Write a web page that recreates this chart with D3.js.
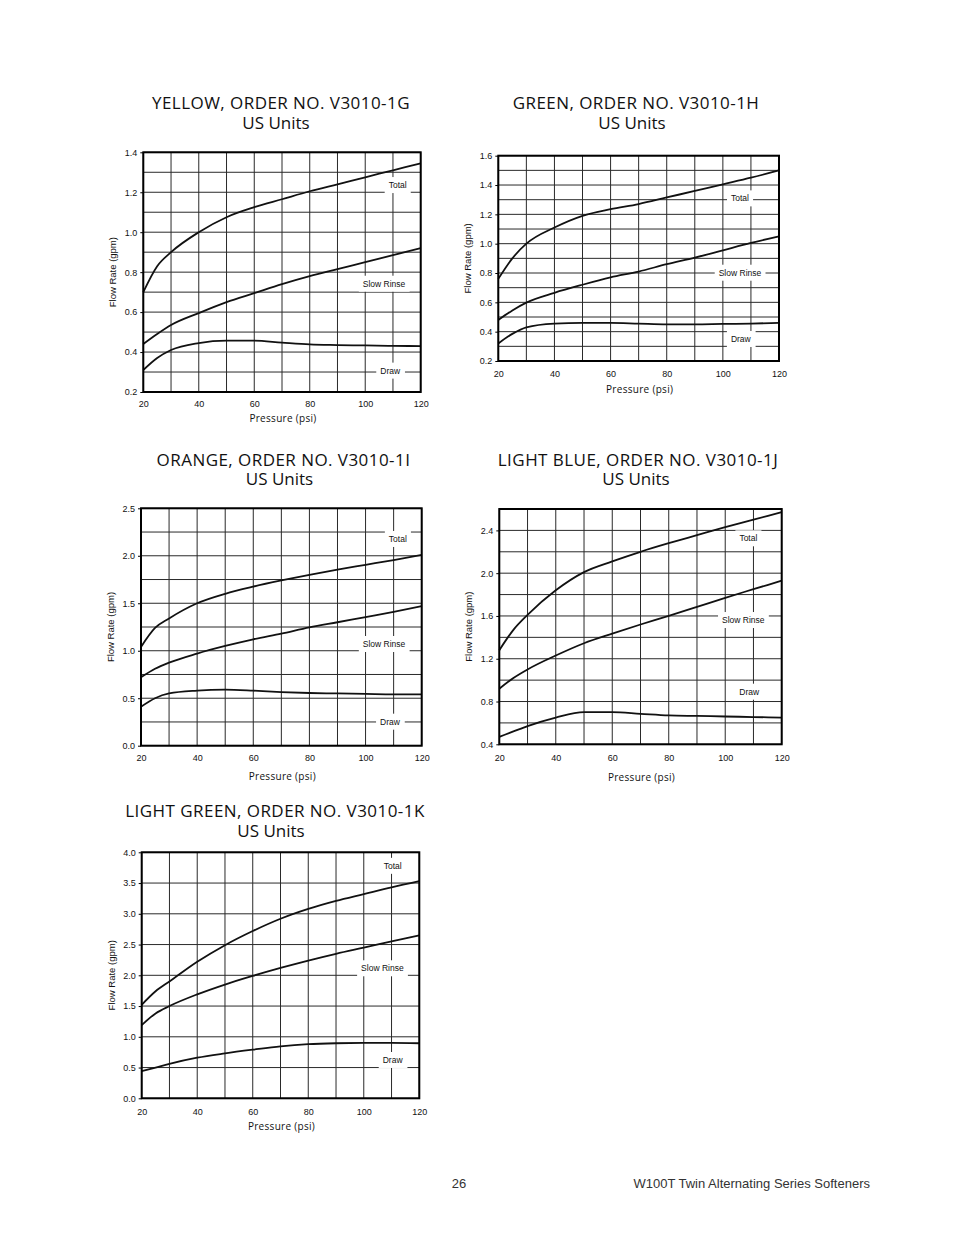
<!DOCTYPE html>
<html><head><meta charset="utf-8">
<script src="https://cdn.jsdelivr.net/npm/d3@7"></script>
<style>body{margin:0;background:#fff} svg{display:block}</style>
</head><body>
<svg id="c" width="954" height="1235"></svg>
<script>
// ---------- data ----------
const pressure = [20, 25, 30, 40, 50, 60, 70, 80, 90, 100, 110, 120];
const xTicks = [20, 40, 60, 80, 100, 120];
const seriesNames = ["Total", "Slow Rinse", "Draw"];
const titles = [
  "YELLOW, ORDER NO. V3010-1G",
  "GREEN, ORDER NO. V3010-1H",
  "ORANGE, ORDER NO. V3010-1I",
  "LIGHT BLUE, ORDER NO. V3010-1J",
  "LIGHT GREEN, ORDER NO. V3010-1K"
];
const subtitle = "US Units";

const yellowTotal = [0.70, 0.83, 0.90, 1.00, 1.075, 1.125, 1.165, 1.205, 1.24, 1.275, 1.31, 1.345];
const yellowRinse = [0.44, 0.49, 0.535, 0.595, 0.65, 0.695, 0.74, 0.78, 0.815, 0.85, 0.885, 0.92];
const yellowDraw  = [0.31, 0.37, 0.41, 0.445, 0.457, 0.457, 0.447, 0.438, 0.435, 0.433, 0.431, 0.43];
const yellowTicks = [0.2, 0.4, 0.6, 0.8, 1.0, 1.2, 1.4];

const greenTotal = [0.76, 0.90, 1.00, 1.11, 1.19, 1.235, 1.27, 1.315, 1.36, 1.405, 1.45, 1.50];
const greenRinse = [0.48, 0.545, 0.598, 0.665, 0.72, 0.77, 0.81, 0.86, 0.905, 0.955, 1.005, 1.05];
const greenDraw  = [0.32, 0.385, 0.43, 0.455, 0.46, 0.46, 0.455, 0.45, 0.45, 0.453, 0.455, 0.46];
const greenTicks = [0.2, 0.4, 0.6, 0.8, 1.0, 1.2, 1.4, 1.6];

const orangeTotal = [1.04, 1.24, 1.34, 1.50, 1.60, 1.675, 1.74, 1.80, 1.855, 1.905, 1.955, 2.01];
const orangeRinse = [0.72, 0.81, 0.875, 0.97, 1.05, 1.12, 1.18, 1.245, 1.30, 1.355, 1.41, 1.47];
const orangeDraw  = [0.41, 0.50, 0.55, 0.58, 0.59, 0.58, 0.565, 0.555, 0.55, 0.545, 0.54, 0.54];
const orangeTicks = [0.0, 0.5, 1.0, 1.5, 2.0, 2.5];

const blueTotal = [1.28, 1.47, 1.61, 1.84, 2.01, 2.11, 2.20, 2.28, 2.355, 2.43, 2.50, 2.57];
const blueRinse = [0.92, 1.02, 1.10, 1.23, 1.345, 1.435, 1.52, 1.60, 1.685, 1.77, 1.85, 1.93];
const blueDraw  = [0.47, 0.52, 0.57, 0.65, 0.70, 0.70, 0.685, 0.67, 0.665, 0.66, 0.655, 0.65];
const blueTicks = [0.4, 0.8, 1.2, 1.6, 2.0, 2.4];

const lgTotal = [1.52, 1.74, 1.90, 2.22, 2.49, 2.72, 2.92, 3.08, 3.21, 3.32, 3.43, 3.53];
const lgRinse = [1.19, 1.38, 1.50, 1.69, 1.85, 1.99, 2.12, 2.24, 2.35, 2.45, 2.55, 2.65];
const lgDraw  = [0.44, 0.50, 0.56, 0.66, 0.73, 0.79, 0.845, 0.88, 0.895, 0.90, 0.90, 0.895];
const lgTicks = [0.0, 0.5, 1.0, 1.5, 2.0, 2.5, 3.0, 3.5, 4.0];

const footerPage = "26";
const footerText = "W100T Twin Alternating Series Softeners";

// ---------- layout ----------
const panels = [
  {title: titles[0], series: [yellowTotal, yellowRinse, yellowDraw], ticks: yellowTicks, dom: [0.2, 1.4], step: 0.1,
   box: [143.3, 420.7, 152.3, 392], tx: [281, 276], ty: [109, 129], xt: 15.5, xl: 29.5,
   labels: [[111.7, 1.236], [106.8, 0.742], [109, 0.307]]},
  {title: titles[1], series: [greenTotal, greenRinse, greenDraw], ticks: greenTicks, dom: [0.2, 1.6], step: 0.1,
   box: [498.3, 779, 155.7, 361], tx: [636, 632], ty: [108.5, 128.5], xt: 16.5, xl: 31.5,
   labels: [[106.1, 1.309], [106.1, 0.802], [106.4, 0.35]]},
  {title: titles[2], series: [orangeTotal, orangeRinse, orangeDraw], ticks: orangeTicks, dom: [0, 2.5], step: 0.25,
   box: [141, 421.7, 508.3, 745.7], tx: [283.5, 279.5], ty: [465.5, 485], xt: 16, xl: 34.5,
   labels: [[111.5, 2.177], [106.6, 1.071], [108.7, 0.253]]},
  {title: titles[3], series: [blueTotal, blueRinse, blueDraw], ticks: blueTicks, dom: [0.4, 2.6], step: 0.2,
   box: [499.3, 781.7, 509, 744.3], tx: [638, 636], ty: [465.5, 485], xt: 17.5, xl: 36.5,
   labels: [[108.2, 2.326], [106.4, 1.562], [108.5, 0.892]]},
  {title: titles[4], series: [lgTotal, lgRinse, lgDraw], ticks: lgTicks, dom: [0, 4], step: 0.5,
   box: [141.7, 419.3, 852.3, 1098.3], tx: [275, 271], ty: [816.5, 836.5], xt: 17, xl: 31.5,
   labels: [[110.4, 3.78], [106.7, 2.114], [110.4, 0.623]]}
];

const svg = d3.select("#c");
const axisFont = "'Liberation Sans', Arial, sans-serif";
const titleFont = "'Open Sans', 'DejaVu Sans', sans-serif";

panels.forEach(p => {
  const [x0, x1, y0, y1] = p.box;
  const x = d3.scaleLinear().domain([20, 120]).range([x0, x1]);
  const y = d3.scaleLinear().domain(p.dom).range([y1, y0]);
  const g = svg.append("g");

  // titles
  g.append("text").attr("x", p.tx[0]).attr("y", p.ty[0]).attr("text-anchor", "middle")
    .attr("font-family", titleFont).attr("font-size", 17).attr("letter-spacing", 0.45)
    .attr("fill", "#111").text(p.title);
  g.append("text").attr("x", p.tx[1]).attr("y", p.ty[1]).attr("text-anchor", "middle")
    .attr("font-family", titleFont).attr("font-size", 17).attr("fill", "#111").text(subtitle);

  // grid
  const vg = d3.range(20, 121, 10);
  const n = Math.round((p.dom[1] - p.dom[0]) / p.step);
  const hg = d3.range(0, n + 1).map(i => p.dom[0] + i * p.step);
  g.append("g").selectAll("line").data(vg).join("line")
    .attr("x1", d => x(d)).attr("x2", d => x(d)).attr("y1", y0).attr("y2", y1)
    .attr("stroke", "#2a2a2a").attr("stroke-width", 1);
  g.append("g").selectAll("line").data(hg).join("line")
    .attr("x1", x0).attr("x2", x1).attr("y1", d => y(d)).attr("y2", d => y(d))
    .attr("stroke", "#2a2a2a").attr("stroke-width", 1);

  // curves
  const line = d3.line().x((d, i) => x(pressure[i])).y(d => y(d)).curve(d3.curveMonotoneX);
  p.series.forEach(s => {
    g.append("path").attr("d", line(s)).attr("fill", "none")
      .attr("stroke", "#111").attr("stroke-width", 1.8);
  });

  // series labels with white backing
  p.labels.forEach((l, i) => {
    const lx = x(l[0]), ly = y(l[1]);
    const t = g.append("text").attr("x", lx).attr("y", ly + 3).attr("text-anchor", "middle")
      .attr("font-family", axisFont).attr("font-size", 8.5).attr("fill", "#111").text(seriesNames[i]);
    const bb = t.node().getBBox();
    g.insert("rect", () => t.node())
      .attr("x", bb.x - 4).attr("y", ly - 8).attr("width", bb.width + 8).attr("height", 16)
      .attr("fill", "#fff");
  });

  // border
  g.append("rect").attr("x", x0).attr("y", y0).attr("width", x1 - x0).attr("height", y1 - y0)
    .attr("fill", "none").attr("stroke", "#000").attr("stroke-width", 2);

  // axes
  const ya = d3.axisLeft(y).tickValues(p.ticks).tickFormat(d3.format(".1f")).tickSize(3).tickPadding(3);
  const yg = g.append("g").attr("transform", `translate(${x0},0)`).call(ya);
  const xa = d3.axisBottom(x).tickValues(xTicks).tickFormat(d3.format("d")).tickSize(0).tickPadding(p.xt - 7);
  const xg = g.append("g").attr("transform", `translate(0,${y1})`).call(xa);
  [yg, xg].forEach(a => {
    a.select(".domain").remove();
    a.selectAll("line").attr("stroke", "#000");
    a.selectAll("text").attr("font-family", axisFont).attr("font-size", 9).attr("fill", "#111");
  });

  // axis titles
  g.append("text").attr("x", (x0 + x1) / 2 + 1).attr("y", y1 + p.xl).attr("text-anchor", "middle")
    .attr("font-family", titleFont).attr("font-size", 10).attr("letter-spacing", 0.3).attr("fill", "#111")
    .text("Pressure (psi)");
  g.append("text").attr("transform", `translate(${x0 - 27},${(y0 + y1) / 2}) rotate(-90)`)
    .attr("text-anchor", "middle").attr("font-family", axisFont).attr("font-size", 9.5).attr("fill", "#111")
    .text("Flow Rate (gpm)");
});

// footer
svg.append("text").attr("x", 459).attr("y", 1188).attr("text-anchor", "middle")
  .attr("font-family", axisFont).attr("font-size", 13).attr("fill", "#333").text(footerPage);
svg.append("text").attr("x", 870).attr("y", 1188).attr("text-anchor", "end")
  .attr("font-family", axisFont).attr("font-size", 13).attr("fill", "#333").text(footerText);
</script>
</body></html>
